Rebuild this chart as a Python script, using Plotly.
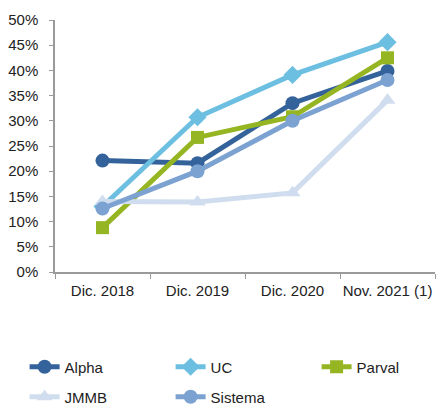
import plotly.graph_objects as go

categories = ["Dic. 2018", "Dic. 2019", "Dic. 2020", "Nov. 2021 (1)"]
alpha = [22.1, 21.6, 33.5, 39.9]
uc = [13.0, 30.7, 39.1, 45.6]
parval = [8.8, 26.7, 30.8, 42.5]
jmmb = [14.0, 13.9, 15.7, 34.1]
sistema = [12.6, 20.0, 30.0, 38.1]

series = [
    ("Alpha", alpha, "#34629A", "circle", 14, "legend"),
    ("UC", uc, "#6CBFE1", "diamond", 14, "legend"),
    ("Parval", parval, "#95B522", "square", 13, "legend"),
    ("JMMB", jmmb, "#D0DDEE", "triangle-up", 14, "legend2"),
    ("Sistema", sistema, "#7BA2D1", "circle", 14, "legend2"),
]

fig = go.Figure()
for name, vals, color, sym, size, lg in series:
    fig.add_trace(go.Scatter(
        x=categories, y=[v / 100 for v in vals], name=name, mode="lines+markers",
        line=dict(color=color, width=5), marker=dict(symbol=sym, size=size, color=color),
        legend=lg,
    ))

leg_common = dict(orientation="h", xanchor="left", yanchor="middle",
                  entrywidth=101, entrywidthmode="pixels", font=dict(size=15),
                  traceorder="normal", bgcolor="rgba(0,0,0,0)")
fig.update_layout(
    width=441, height=407,
    margin=dict(l=55, r=6, t=20, b=135, autoexpand=False),
    paper_bgcolor="white", plot_bgcolor="white",
    font=dict(family="Liberation Sans, Arial", size=15, color="#222"),
    showlegend=True,
    legend=dict(x=-0.08, y=-0.377, **leg_common),
    legend2=dict(x=-0.08, y=-0.496, **leg_common),
)
fig.update_xaxes(type="category", range=[-0.5, 3.5], tickson="boundaries", tickangle=0,
                 showline=True, linecolor="#9a9a9a", linewidth=1.5, ticks="outside",
                 ticklen=5, tickcolor="#9a9a9a", showgrid=False, zeroline=False,
                 automargin=False, ticklabelstandoff=4)
fig.update_yaxes(range=[0, 0.5], dtick=0.05, tickformat=".0%", showline=True,
                 linecolor="#9a9a9a", linewidth=1.5, ticks="outside", ticklen=4,
                 tickcolor="#9a9a9a", showgrid=False, zeroline=False, automargin=False,
                 ticklabelstandoff=8)

fig.write_html("out.html", config={"displayModeBar": False},
               post_script="document.body.style.margin='0';")
